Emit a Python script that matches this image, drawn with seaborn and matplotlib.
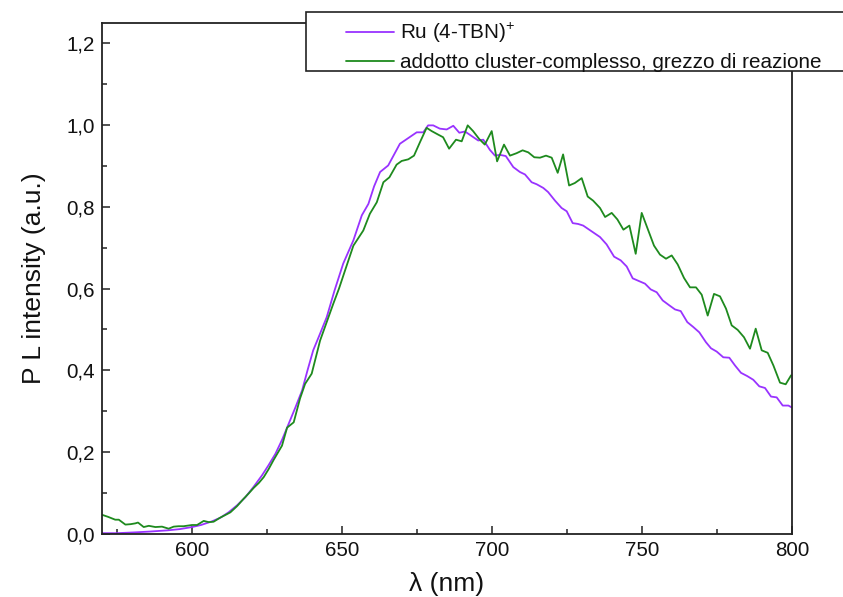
import numpy as np
import pandas as pd
import matplotlib
matplotlib.use("Agg")
import matplotlib.pyplot as plt
from matplotlib.patches import Rectangle
from matplotlib.ticker import MultipleLocator, FuncFormatter
import seaborn as sns

# ---------------- data ----------------
wl_ru = [570, 575, 581, 586, 592, 596, 600, 603, 606.7, 609.5, 612.2, 615, 617.8, 620.5,
         623.3, 625.5, 627.8, 630, 632.2, 634.5, 636.7, 638.5, 640.4, 642.7, 644.9, 647.5,
         650.4, 653.8, 656.6, 658.8, 660.7, 662.7, 665.4, 669.3, 672.1, 674.9, 677.1,
         678.7, 680.4, 682.6, 684.9, 687.1, 689.1, 691, 693.2, 695.4, 697.1, 699.3, 701,
         702.6, 704.6, 707.1, 709.3, 711, 713.2, 714.9, 717.1, 718.7, 721, 723.2, 724.9,
         726.9, 728.7, 730.4, 733.2, 736, 738.2, 740.7, 742.9, 744.9, 746.9, 749.1, 751,
         752.9, 754.9, 756.9, 759.1, 761, 762.9, 765.1, 767.1, 769.1, 771.3, 773, 774.9,
         777.1, 779.1, 781, 783, 785.1, 787.1, 789.1, 791, 793, 794.9, 796.9, 798.8, 800]
pl_ru = [0.002, 0.002, 0.004, 0.006, 0.009, 0.012, 0.017, 0.022, 0.031, 0.040, 0.053, 0.070,
         0.090, 0.115, 0.143, 0.168, 0.196, 0.230, 0.269, 0.310, 0.351, 0.400, 0.449, 0.490,
         0.530, 0.595, 0.661, 0.718, 0.779, 0.807, 0.850, 0.885, 0.901, 0.954, 0.968, 0.982,
         0.982, 0.999, 0.999, 0.991, 0.989, 0.998, 0.981, 0.984, 0.973, 0.962, 0.964, 0.939,
         0.925, 0.927, 0.924, 0.897, 0.885, 0.879, 0.860, 0.855, 0.846, 0.836, 0.815, 0.797,
         0.789, 0.760, 0.758, 0.754, 0.740, 0.726, 0.708, 0.678, 0.669, 0.654, 0.625, 0.618,
         0.612, 0.598, 0.591, 0.571, 0.559, 0.549, 0.545, 0.518, 0.506, 0.493, 0.469, 0.454,
         0.446, 0.432, 0.431, 0.412, 0.394, 0.386, 0.377, 0.361, 0.357, 0.336, 0.334, 0.314,
         0.314, 0.309]

wl_add = [570, 572, 574.4, 575.6, 577.8, 579.5, 581.1, 582, 583.9, 585.6, 587.8, 590, 592.2,
          593.9, 595.5, 597.2, 600, 601.7, 603.9, 605.6, 607.2, 609.4, 611, 612.8, 615,
          617.2, 619, 620.6, 622.3, 623.9, 625.5, 627.2, 630, 631.7, 633.9, 636, 637.7,
          639.9, 642.7, 645, 647.1, 649, 651, 653.8, 657.1, 659.3, 661.6, 663.8, 665.8,
          668.2, 669.9, 672.1, 674, 676, 678.2, 679.9, 681.9, 683.7, 685.7, 688, 689.9,
          691.9, 693.7, 695.7, 697.6, 699.9, 701.7, 704, 706, 708.2, 710.2, 712.1, 714.1,
          716, 718, 719.9, 721.9, 723.7, 725.7, 727.6, 729.9, 731.9, 733.7, 736, 737.7,
          739.9, 741.8, 743.8, 745.8, 747.9, 749.9, 751.9, 754, 756, 758, 759.9, 761.9, 764,
          766, 768, 769.9, 771.9, 774, 776, 778, 779.9, 781.9, 784, 786, 787.9, 789.9, 791.9,
          793.8, 796, 797.9, 799.7]
pl_add = [0.047, 0.042, 0.035, 0.035, 0.023, 0.024, 0.026, 0.028, 0.017, 0.020, 0.017, 0.018,
          0.013, 0.018, 0.019, 0.019, 0.022, 0.022, 0.032, 0.029, 0.030, 0.040, 0.046, 0.053,
          0.068, 0.086, 0.100, 0.113, 0.125, 0.139, 0.158, 0.181, 0.216, 0.260, 0.273, 0.331,
          0.367, 0.392, 0.473, 0.520, 0.563, 0.600, 0.644, 0.705, 0.742, 0.783, 0.811, 0.860,
          0.872, 0.903, 0.912, 0.916, 0.925, 0.958, 0.993, 0.985, 0.977, 0.970, 0.942, 0.964,
          0.960, 0.999, 0.985, 0.966, 0.952, 0.985, 0.911, 0.952, 0.925, 0.931, 0.938, 0.933,
          0.921, 0.920, 0.925, 0.920, 0.883, 0.928, 0.852, 0.858, 0.870, 0.825, 0.815, 0.797,
          0.775, 0.785, 0.769, 0.744, 0.754, 0.685, 0.785, 0.746, 0.705, 0.683, 0.673, 0.681,
          0.659, 0.626, 0.603, 0.603, 0.585, 0.534, 0.587, 0.581, 0.551, 0.510, 0.499, 0.481,
          0.453, 0.502, 0.449, 0.443, 0.412, 0.370, 0.366, 0.388]

label_ru = "Ru (4-TBN)$^{+}$"
label_add = "addotto cluster-complesso, grezzo di reazione"
x_label = "λ (nm)"
y_label = "P L intensity (a.u.)"

# ---------------- style ----------------
sns.set_theme(style="ticks")
plt.rcParams["font.family"] = ["Liberation Sans", "DejaVu Sans"]
plt.rcParams["mathtext.fontset"] = "custom"
plt.rcParams["mathtext.rm"] = "Liberation Sans"
plt.rcParams["mathtext.it"] = "Liberation Sans"

W, H = 843, 597
fig = plt.figure(figsize=(W / 100, H / 100), dpi=100)
ax = fig.add_axes([102 / W, 1 - 534 / H, (792 - 102) / W, (534 - 22.7) / H])

c_ru = "#9933FF"
c_add = "#1E8A1E"

df_ru = pd.DataFrame({"wl": wl_ru, "pl": pl_ru})
df_add = pd.DataFrame({"wl": wl_add, "pl": pl_add})
sns.lineplot(data=df_ru, x="wl", y="pl", ax=ax, color=c_ru, lw=1.3, sort=False,
             estimator=None, label=label_ru)
sns.lineplot(data=df_add, x="wl", y="pl", ax=ax, color=c_add, lw=1.3, sort=False,
             estimator=None, label=label_add)

ax.set_xlim(570, 800)
ax.set_ylim(0, 1.25)
ax.xaxis.set_major_locator(MultipleLocator(50))
ax.xaxis.set_minor_locator(MultipleLocator(25))
ax.yaxis.set_major_locator(MultipleLocator(0.2))
ax.yaxis.set_minor_locator(MultipleLocator(0.1))
ax.yaxis.set_major_formatter(FuncFormatter(lambda v, p: f"{v:.1f}".replace(".", ",")))

ax.tick_params(which="both", direction="in", top=False, right=False, color="#222222",
               labelsize=14.8, labelcolor="#111111")
ax.tick_params(which="major", length=6, width=1.1, pad=5)
ax.tick_params(which="minor", length=3.5, width=1.1)
for s in ax.spines.values():
    s.set_visible(True)
    s.set_color("#222222")
    s.set_linewidth(1.3)

ax.set_xlabel(x_label, fontsize=19, color="#111111", labelpad=9)
ax.set_ylabel(y_label, fontsize=19, color="#111111", labelpad=15)

# legend frame extending beyond the figure edge (as in the reference)
frame = Rectangle((306 / W, 1 - 71 / H), (860 - 306) / W, (71 - 12.3) / H,
                  transform=fig.transFigure, facecolor="white", edgecolor="#222222",
                  lw=1.2, clip_on=False, zorder=4)
ax.add_patch(frame)
leg = ax.legend(loc="lower left", bbox_to_anchor=(346 / W, 1 - 72.5 / H),
                bbox_transform=fig.transFigure, frameon=False, fontsize=14.9,
                borderpad=0.0, borderaxespad=0.0, handlelength=2.3, handletextpad=0.3,
                labelspacing=0.4)
leg.set_zorder(5)
for t in leg.get_texts():
    t.set_color("#111111")

fig.savefig("out.png", dpi=100)
